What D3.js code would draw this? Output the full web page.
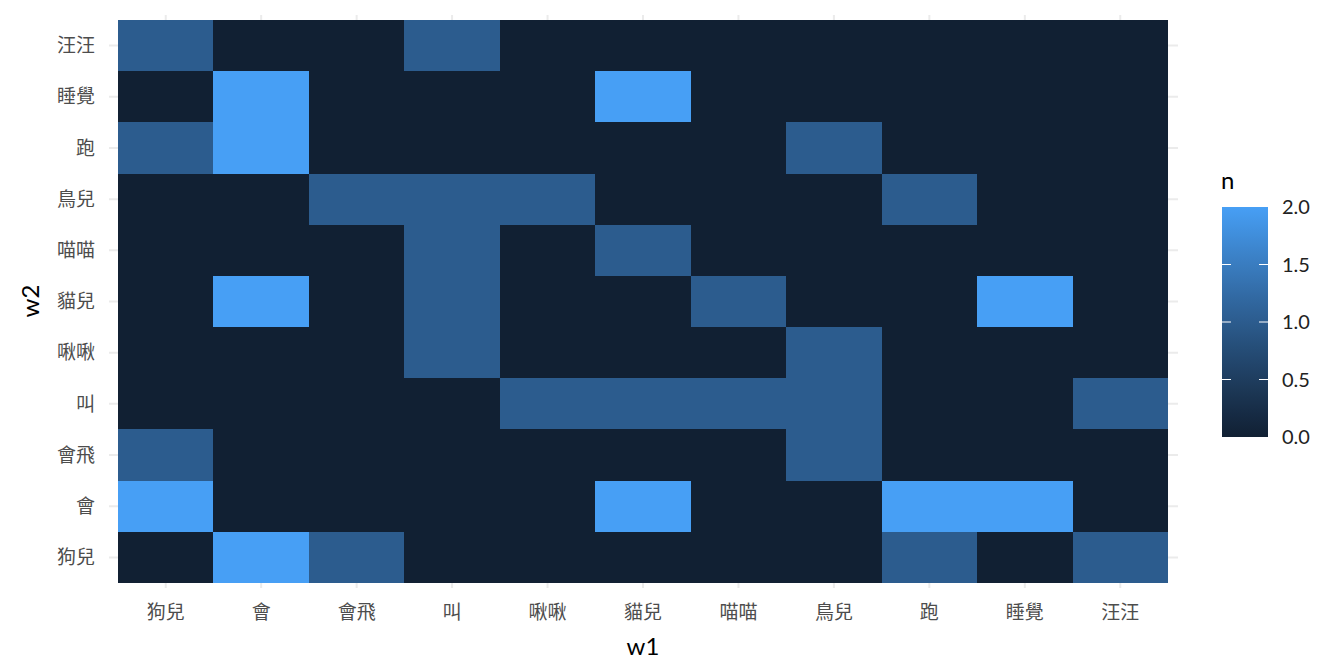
<!DOCTYPE html>
<html><head><meta charset="utf-8">
<script src="https://cdn.jsdelivr.net/npm/d3@7"></script>
<style>body{margin:0;background:#fff}svg{display:block}</style>
</head><body><svg id="c" width="1344" height="672"></svg>
<script>
const w1Levels = ["狗兒","會","會飛","叫","啾啾","貓兒","喵喵","鳥兒","跑","睡覺","汪汪"];
const w2Levels = ["狗兒","會","會飛","叫","啾啾","貓兒","喵喵","鳥兒","跑","睡覺","汪汪"];
// counts: rows = w2 (same order as w2Levels), columns = w1
const nMatrix = [
  [0,2,1,0,0,0,0,0,1,0,1], // 狗兒
  [2,0,0,0,0,2,0,0,2,2,0], // 會
  [1,0,0,0,0,0,0,1,0,0,0], // 會飛
  [0,0,0,0,1,1,1,1,0,0,1], // 叫
  [0,0,0,1,0,0,0,1,0,0,0], // 啾啾
  [0,2,0,1,0,0,1,0,0,2,0], // 貓兒
  [0,0,0,1,0,1,0,0,0,0,0], // 喵喵
  [0,0,1,1,1,0,0,0,1,0,0], // 鳥兒
  [1,2,0,0,0,0,0,1,0,0,0], // 跑
  [0,2,0,0,0,2,0,0,0,0,0], // 睡覺
  [1,0,0,1,0,0,0,0,0,0,0]  // 汪汪
];
const legendTicks = [0,0.5,1,1.5,2];

const cells = [];
w2Levels.forEach((r,i)=>w1Levels.forEach((c,j)=>cells.push({w1:c,w2:r,n:nMatrix[i][j]})));

const svg = d3.select("#c");
const L=118, R=1168, T=20, B=583;
const x = d3.scaleBand().domain(w1Levels).range([L,R]);
const y = d3.scaleBand().domain(w2Levels).range([B,T]);
const color = d3.scaleLinear().domain([0,2]).range(["#112033","#479ff5"]).interpolate(d3.interpolateLab);

const font = "Lato, 'Noto Sans CJK TC', sans-serif";
const cjk = "'Noto Sans CJK TC', sans-serif";
// grid lines
const g = svg.append("g");
w1Levels.forEach(d=>{g.append("line").attr("x1",x(d)+x.bandwidth()/2).attr("x2",x(d)+x.bandwidth()/2)
  .attr("y1",15).attr("y2",588).attr("stroke","#ebebeb").attr("stroke-width",2);});
w2Levels.forEach(d=>{g.append("line").attr("y1",y(d)+y.bandwidth()/2).attr("y2",y(d)+y.bandwidth()/2)
  .attr("x1",109).attr("x2",1178).attr("stroke","#ebebeb").attr("stroke-width",2);});

svg.append("g").attr("shape-rendering","crispEdges").selectAll("rect").data(cells).join("rect")
  .attr("x",d=>Math.round(x(d.w1))).attr("y",d=>Math.round(y(d.w2)))
  .attr("width",d=>Math.round(x(d.w1)+x.bandwidth())-Math.round(x(d.w1)))
  .attr("height",d=>Math.round(y(d.w2)+y.bandwidth())-Math.round(y(d.w2)))
  .attr("fill",d=>color(d.n));

// axes labels
const xa = svg.append("g").attr("transform",`translate(0,${B})`)
  .call(d3.axisBottom(x).tickSize(0).tickPadding(0));
xa.select(".domain").remove();
xa.selectAll("text").attr("y",36).attr("dy",null).attr("font-family",cjk).attr("font-size",19).attr("fill","#4d4d4d");
const ya = svg.append("g").attr("transform",`translate(${L},0)`)
  .call(d3.axisLeft(y).tickSize(0).tickPadding(23));
ya.select(".domain").remove();
ya.selectAll("text").attr("dy","0.35em").attr("font-family",cjk).attr("font-size",19).attr("fill","#4d4d4d");

svg.append("text").attr("x",643).attr("y",655).attr("text-anchor","middle")
  .attr("font-family",font).attr("font-size",24).attr("fill","#000").text("w1");
svg.append("text").attr("transform","translate(39,301) rotate(-90)").attr("text-anchor","middle")
  .attr("font-family",font).attr("font-size",24).attr("fill","#000").text("w2");

// legend
const lx=1222, lw=46, lt=207, lb=437;
const defs = svg.append("defs");
const grad = defs.append("linearGradient").attr("id","gr").attr("x1",0).attr("x2",0).attr("y1",1).attr("y2",0);
d3.range(0,1.01,0.1).forEach(t=>grad.append("stop").attr("offset",t).attr("stop-color",color(t*2)));
svg.append("rect").attr("x",lx).attr("y",lt).attr("width",lw).attr("height",lb-lt).attr("fill","url(#gr)");
const ly = d3.scaleLinear().domain([0,2]).range([lb,lt]);
legendTicks.forEach(v=>{
  const yy = ly(v);
  if(v>0 && v<2){
    svg.append("line").attr("x1",lx).attr("x2",lx+9).attr("y1",yy).attr("y2",yy).attr("stroke","#fff").attr("stroke-width",1);
    svg.append("line").attr("x1",lx+lw-9).attr("x2",lx+lw).attr("y1",yy).attr("y2",yy).attr("stroke","#fff").attr("stroke-width",1);
  }
  svg.append("text").attr("x",1282).attr("y",yy).attr("dy","0.36em")
    .attr("font-family",font).attr("font-size",20).attr("fill","#222").text(d3.format(".1f")(v));
});
svg.append("text").attr("x",1221).attr("y",189).attr("font-family",font).attr("font-size",24).attr("fill","#000").text("n");
</script></body></html>
